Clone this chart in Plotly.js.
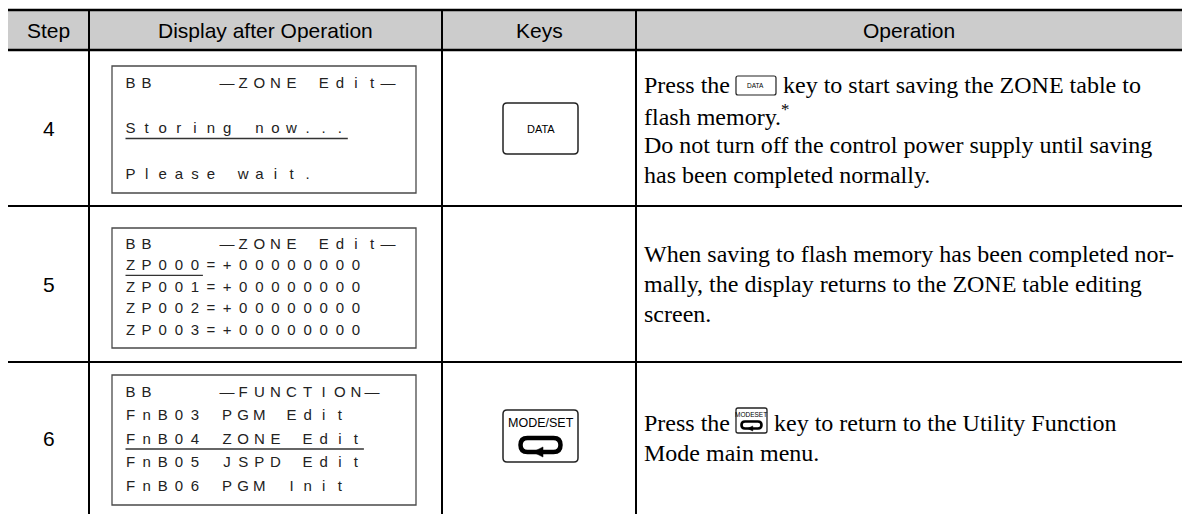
<!DOCTYPE html>
<html><head><meta charset="utf-8">
<script src="https://cdn.plot.ly/plotly-3.0.1.min.js"></script>
<style>html,body{margin:0;padding:0;background:#fff;}#chart{width:1190px;height:514px;}</style>
</head><body><div id="chart"></div>
<script>
// ---------- content ----------
const headers = ['Step', 'Display after Operation', 'Keys', 'Operation'];
const steps = ['4', '5', '6'];
const display4 = ['BB    —ZONE Edit—', '', 'Storing now...', '', 'Please wait.'];
const display5 = ['BB    —ZONE Edit—', 'ZP000=+00000000', 'ZP001=+00000000', 'ZP002=+00000000', 'ZP003=+00000000'];
const display6 = ['BB    —FUNCTION—', 'FnB03 PGM Edit', 'FnB04 ZONE Edit', 'FnB05 JSPD Edit', 'FnB06 PGM Init'];
const underlineLine = [2, 1, 2];
const underlineChars = [14, 5, 15];
const keyLabels = ['DATA', '', 'MODE/SET'];
const operation4 = ['Press the {DATA} key to start saving the ZONE table to', 'flash memory.<sup>*</sup>', 'Do not turn off the control power supply until saving', 'has been completed normally.'];
const operation5 = ['When saving to flash memory has been completed nor-', 'mally, the display returns to the ZONE table editing', 'screen.'];
const operation6 = ['Press the {MODESET} key to return to the Utility Function', 'Mode main menu.'];

// ---------- geometry / style ----------
const W = 1190, H = 514;
const colX = [8, 89, 442, 636, 1182];
const rowY = [10, 50, 206, 362, 514];
const lcdX = [112, 416];
const lcdY = [[66, 193], [228, 348], [375, 505]];
const pitch = 16.1, lcdFirst = 130.5;
const sans = 'Liberation Sans, Arial, sans-serif';
const serif = 'Liberation Serif, Times New Roman, serif';
const bodySize = 24, bodyPitch = 30, opX = 643;

const shapes = [], annotations = [], traces = [];

// header background & rules
shapes.push({type: 'rect', x0: colX[0], x1: colX[4], y0: rowY[0], y1: rowY[1], fillcolor: '#cccccc', line: {width: 0}, layer: 'below'});
shapes.push({type: 'line', x0: colX[0], x1: colX[4], y0: rowY[0], y1: rowY[0], line: {color: '#000', width: 2.7}});
shapes.push({type: 'line', x0: colX[0], x1: colX[4], y0: rowY[1], y1: rowY[1], line: {color: '#000', width: 2.4}});
[2, 3].forEach(i => shapes.push({type: 'line', x0: colX[0], x1: colX[4], y0: rowY[i], y1: rowY[i], line: {color: '#000', width: 2}}));
[1, 2, 3].forEach(i => shapes.push({type: 'line', x0: colX[i], x1: colX[i], y0: rowY[0], y1: rowY[4], line: {color: '#000', width: 2}}));

// headers
headers.forEach((h, i) => annotations.push({x: (colX[i] + colX[i + 1]) / 2, y: (rowY[0] + rowY[1]) / 2, text: h, showarrow: false, xanchor: 'center', yanchor: 'middle', font: {family: sans, size: 21, color: '#000'}, borderpad: 0}));

// step numbers
steps.forEach((s, i) => annotations.push({x: (colX[0] + colX[1]) / 2, y: (rowY[i + 1] + rowY[i + 2]) / 2, text: s, showarrow: false, xanchor: 'center', yanchor: 'middle', font: {family: sans, size: 21, color: '#000'}, borderpad: 0}));

// LCD displays
const displays = [display4, display5, display6];
displays.forEach((lines, b) => {
  const [t0, t1] = lcdY[b];
  shapes.push({type: 'rect', x0: lcdX[0], x1: lcdX[1], y0: t0, y1: t1, line: {color: '#4a4a4a', width: 1.3}, fillcolor: 'rgba(0,0,0,0)'});
  const p = (t1 - t0) / 5.56, top = t0 + 0.78 * p;
  const xs = [], ys = [], ts = [];
  lines.forEach((s, k) => {
    [...s].forEach((c, i) => {
      if (c === ' ') return;
      xs.push(lcdFirst + i * pitch); ys.push(top + k * p); ts.push(c);
    });
  });
  traces.push({type: 'scatter', mode: 'text', x: xs, y: ys, text: ts, textposition: 'middle center', textfont: {family: sans, size: 15, color: '#222'}, hoverinfo: 'skip', showlegend: false, cliponaxis: false});
  const ul = underlineLine[b], n = underlineChars[b], uy = top + ul * p + 9;
  shapes.push({type: 'line', x0: lcdFirst - 5, x1: lcdFirst + (n - 1) * pitch + 8, y0: uy, y1: uy, line: {color: '#333', width: 1.4}});
});

// rounded rect path
function rr(x0, y0, x1, y1, r) {
  return `M${x0 + r},${y0} L${x1 - r},${y0} Q${x1},${y0} ${x1},${y0 + r} L${x1},${y1 - r} Q${x1},${y1} ${x1 - r},${y1} L${x0 + r},${y1} Q${x0},${y1} ${x0},${y1 - r} L${x0},${y0 + r} Q${x0},${y0} ${x0 + r},${y0} Z`;
}
function returnIcon(cx, cy, w, h, lw) {
  const r = h / 2;
  shapes.push({type: 'path', path: `M${cx - w / 2 + r},${cy - r} L${cx + w / 2 - r},${cy - r} Q${cx + w / 2},${cy - r} ${cx + w / 2},${cy} Q${cx + w / 2},${cy + r} ${cx + w / 2 - r},${cy + r} L${cx - w / 2 + r},${cy + r} Q${cx - w / 2},${cy + r} ${cx - w / 2},${cy} Q${cx - w / 2},${cy - r} ${cx - w / 2 + r},${cy - r} Z`, line: {color: '#000', width: lw}, fillcolor: 'rgba(0,0,0,0)'});
  const a = h * 0.6;
  shapes.push({type: 'path', path: `M${cx - a * 0.9},${cy + r} L${cx + a * 0.3},${cy + r - a * 0.6} L${cx + a * 0.3},${cy + r + a * 0.6} Z`, line: {color: '#000', width: 0.5}, fillcolor: '#000'});
}

// key buttons
const keyBox = [[503, 103, 578, 154], null, [503, 410, 578, 462]];
keyLabels.forEach((k, i) => {
  const bx = keyBox[i];
  if (!bx) return;
  shapes.push({type: 'path', path: rr(bx[0], bx[1], bx[2], bx[3], 4), line: {color: '#222', width: 1.5}, fillcolor: '#fff'});
  const cx = (bx[0] + bx[2]) / 2;
  if (k === 'DATA') {
    annotations.push({x: cx, y: (bx[1] + bx[3]) / 2, text: k, showarrow: false, xanchor: 'center', yanchor: 'middle', font: {family: sans, size: 11, color: '#000'}, borderpad: 0});
  } else {
    annotations.push({x: cx, y: bx[1] + 13, text: k, showarrow: false, xanchor: 'center', yanchor: 'middle', font: {family: sans, size: 12.5, color: '#000'}, borderpad: 0});
    returnIcon(cx, bx[1] + 35, 40, 14, 4.5);
  }
});

// operation text
const ctx = document.createElement('canvas').getContext('2d');
ctx.font = bodySize + 'px "Liberation Serif"';
function textW(s) { return ctx.measureText(s).width; }
function bodyAnn(x, y, s) {
  annotations.push({x: x, y: y, text: s, showarrow: false, xanchor: 'left', yanchor: 'middle', font: {family: serif, size: bodySize, color: '#000'}, borderpad: 0});
}
function inlineData(x, y) {
  shapes.push({type: 'path', path: rr(x, y - 9, x + 40, y + 10, 2), line: {color: '#222', width: 1.2}, fillcolor: '#fff'});
  annotations.push({x: x + 20, y: y + 0.5, text: 'DATA', showarrow: false, xanchor: 'center', yanchor: 'middle', font: {family: sans, size: 6.5, color: '#000'}, borderpad: 0});
  return 40;
}
function inlineMode(x, y) {
  shapes.push({type: 'path', path: rr(x, y - 14, x + 31, y + 11, 2), line: {color: '#222', width: 1.3}, fillcolor: '#fff'});
  annotations.push({x: x + 15.5, y: y - 8, text: 'MODESET', showarrow: false, xanchor: 'center', yanchor: 'middle', font: {family: sans, size: 6.5, color: '#000'}, borderpad: 0});
  returnIcon(x + 15.5, y + 3, 20, 7, 2.6);
  return 31;
}
const opRows = [operation4, operation5, operation6];
opRows.forEach((lines, r) => {
  const cy = (rowY[r + 1] + rowY[r + 2]) / 2 + (r === 0 ? 2 : 0);
  const y0 = cy - (lines.length - 1) * bodyPitch / 2;
  lines.forEach((s, k) => {
    const y = y0 + k * bodyPitch;
    const m = s.match(/^(.*?)\s*\{(\w+)\}\s*(.*)$/);
    if (!m) { bodyAnn(opX, y, s); return; }
    bodyAnn(opX, y, m[1]);
    let x = opX + textW(m[1]) + 7;
    const w = m[2] === 'DATA' ? inlineData(x, y) : inlineMode(x, y - 1);
    bodyAnn(x + w + 6, y, m[3]);
  });
});

const layout = {
  width: W, height: H, margin: {l: 0, r: 0, t: 0, b: 0},
  paper_bgcolor: '#fff', plot_bgcolor: '#fff',
  xaxis: {range: [0, W], visible: false, fixedrange: true},
  yaxis: {range: [H, 0], visible: false, fixedrange: true},
  shapes: shapes, annotations: annotations, showlegend: false
};
Plotly.newPlot('chart', traces, layout, {staticPlot: true, displayModeBar: false});
</script>
</body></html>
